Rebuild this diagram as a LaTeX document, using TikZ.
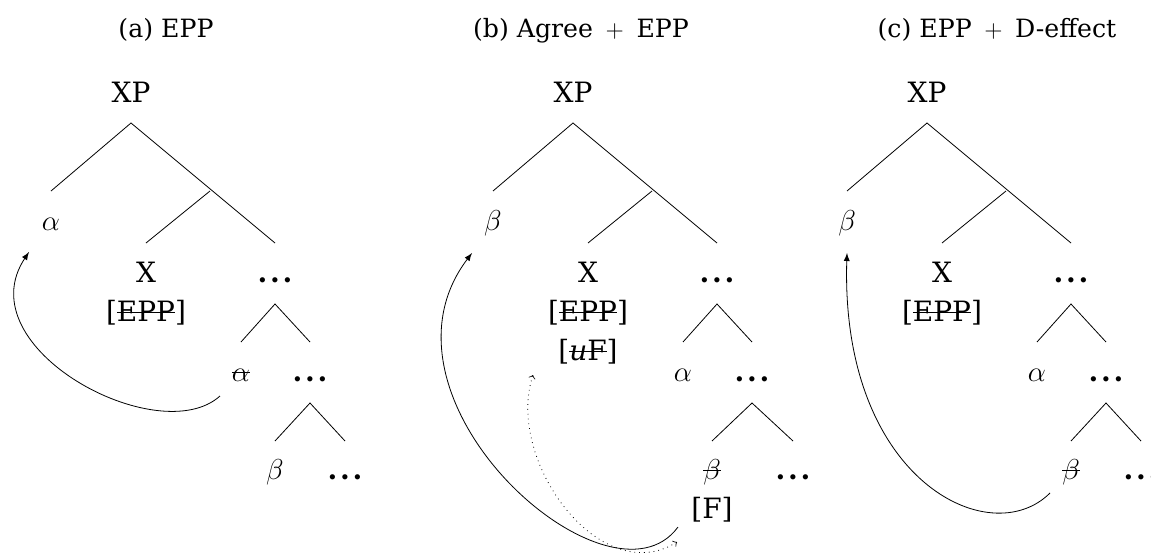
\documentclass[tikz,border=0pt]{standalone}
\usepackage{fontspec}
\setmainfont{DejaVu Serif}
\newcommand{\strk}[1]{\setbox0\hbox{#1}\rlap{\rule[0.3em]{\wd0}{0.45pt}}\box0}
\newcommand{\etc}{{\bfseries.\kern0.1em.\kern0.1em.}}
\tikzset{
	lbl/.style={anchor=base,inner sep=0pt,font=\fontsize{14}{16}\selectfont},
	ttl/.style={anchor=base,inner sep=0pt,font=\fontsize{12.6}{14}\selectfont},
	mv/.style={-latex},
	agr/.style={<->,dotted}
}
\begin{document}
\begin{tikzpicture}[x=0.5pt,y=-0.5pt]
	\useasboundingbox(0,0)rectangle(1151,552);
	% (a)
	\node[ttl](a-ttl)at(166,37){(a) EPP};
	\node[lbl](a-xp)at(131,102){XP};
	\coordinate(a-top)at(131,123);
	\coordinate(a-l)at(51,191);
	\coordinate(a-m)at(210,191);
	\coordinate(a-xe)at(146,243);
	\coordinate(a-r)at(275,243);
	\draw[-](a-l)--(a-top)--(a-r);
	\draw[-](a-m)--(a-xe);
	\node[lbl](a-al)at(51,230){$\alpha$};
	\node[lbl](a-x)at(146,282){X};
	\node[lbl](a-epp)at(146,321){[\strk{EPP}]};
	\node[lbl](a-d1)at(275,282){\etc};
	\coordinate(a-s1)at(275,304);
	\coordinate(a-s1l)at(241,342);
	\coordinate(a-s1r)at(310,342);
	\draw[-](a-s1l)--(a-s1)--(a-s1r);
	\node[lbl](a-al2)at(241,381){\strk{$\alpha$}};
	\node[lbl](a-d2)at(310,381){\etc};
	\coordinate(a-s2)at(310,403);
	\coordinate(a-s2l)at(275,441);
	\coordinate(a-s2r)at(345,441);
	\draw[-](a-s2l)--(a-s2)--(a-s2r);
	\node[lbl](a-be)at(275,479){$\beta$};
	\node[lbl](a-d3)at(345,479){\etc};
	\draw[mv]([shift={(-21,15)}]a-al2.base)..controls(159,451)and(-35,348)..([shift={(-22,22)}]a-al.base);
	% (b)
	\node[ttl](b-ttl)at(581,37){(b) Agree\enspace$+$\enspace EPP};
	\node[lbl](b-xp)at(573,102){XP};
	\coordinate(b-top)at(573,123);
	\coordinate(b-l)at(493,191);
	\coordinate(b-m)at(652,191);
	\coordinate(b-xe)at(588,243);
	\coordinate(b-r)at(717,243);
	\draw[-](b-l)--(b-top)--(b-r);
	\draw[-](b-m)--(b-xe);
	\node[lbl](b-be)at(493,230){$\beta$};
	\node[lbl](b-x)at(588,282){X};
	\node[lbl](b-epp)at(588,321){[\strk{EPP}]};
	\node[lbl](b-uf)at(588,360){[\strk{\textit{u}F}]};
	\node[lbl](b-d1)at(717,282){\etc};
	\coordinate(b-s1)at(717,304);
	\coordinate(b-s1l)at(683,342);
	\coordinate(b-s1r)at(752,342);
	\draw[-](b-s1l)--(b-s1)--(b-s1r);
	\node[lbl](b-al)at(683,381){$\alpha$};
	\node[lbl](b-d2)at(752,381){\etc};
	\coordinate(b-s2)at(752,403);
	\coordinate(b-s2l)at(712,441);
	\coordinate(b-s2r)at(793,441);
	\draw[-](b-s2l)--(b-s2)--(b-s2r);
	\node[lbl](b-be2)at(712,479){\strk{$\beta$}};
	\node[lbl](b-f)at(712,518){[F]};
	\node[lbl](b-d3)at(793,479){\etc};
	\draw[mv]([shift={(-34,9)}]b-f.base)..controls(610,620)and(360,400)..([shift={(-21,23)}]b-be.base);
	\draw[agr]([shift={(-55,15)}]b-uf.base)..controls(505,460)and(600,590)..([shift={(-35,24)}]b-f.base);
	% (c)
	\node[ttl](c-ttl)at(997,37){(c) EPP\enspace$+$\enspace D-effect};
	\node[lbl](c-xp)at(927,102){XP};
	\coordinate(c-top)at(927,123);
	\coordinate(c-l)at(847,191);
	\coordinate(c-m)at(1006,191);
	\coordinate(c-xe)at(942,243);
	\coordinate(c-r)at(1071,243);
	\draw[-](c-l)--(c-top)--(c-r);
	\draw[-](c-m)--(c-xe);
	\node[lbl](c-be)at(847,230){$\beta$};
	\node[lbl](c-x)at(942,282){X};
	\node[lbl](c-epp)at(942,321){[\strk{EPP}]};
	\node[lbl](c-d1)at(1071,282){\etc};
	\coordinate(c-s1)at(1071,304);
	\coordinate(c-s1l)at(1037,342);
	\coordinate(c-s1r)at(1106,342);
	\draw[-](c-s1l)--(c-s1)--(c-s1r);
	\node[lbl](c-al)at(1037,381){$\alpha$};
	\node[lbl](c-d2)at(1106,381){\etc};
	\coordinate(c-s2)at(1106,403);
	\coordinate(c-s2l)at(1071,441);
	\coordinate(c-s2r)at(1141,441);
	\draw[-](c-s2l)--(c-s2)--(c-s2r);
	\node[lbl](c-be2)at(1071,479){\strk{$\beta$}};
	\node[lbl](c-d3)at(1141,479){\etc};
	\draw[mv]([shift={(-21,14)}]c-be2.base)..controls(990,553)and(840,480)..([shift={(0,23)}]c-be.base);
\end{tikzpicture}
\end{document}
